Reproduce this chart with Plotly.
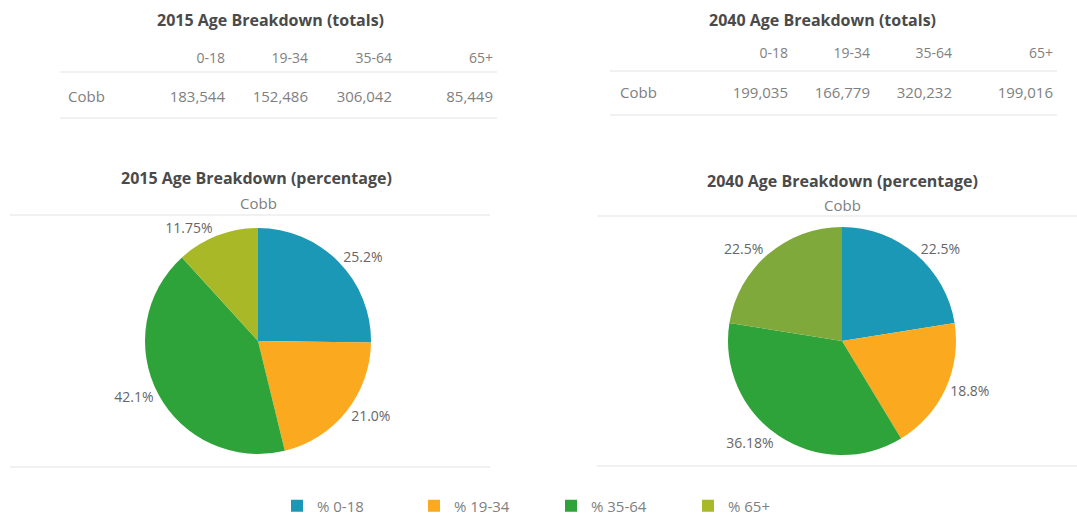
import plotly.graph_objects as go

W, H = 1077, 516

# ---- data ----
age_groups = ["0-18", "19-34", "35-64", "65+"]
legend_labels = ["% 0-18", "% 19-34", "% 35-64", "% 65+"]
region = "Cobb"
totals_2015 = [183544, 152486, 306042, 85449]
totals_2040 = [199035, 166779, 320232, 199016]
pct_labels_2015 = ["25.2%", "21.0%", "42.1%", "11.75%"]
pct_labels_2040 = ["22.5%", "18.8%", "36.18%", "22.5%"]
colors_2015 = ["#1b98b5", "#fbaa1f", "#2ea33a", "#a8b827"]
colors_2040 = ["#1b98b5", "#fbaa1f", "#2ea33a", "#7fa93a"]

FONT = "Open Sans"
GRAY = "#808080"
DARK = "#4a4a4a"
LINE = "#e3e3e3"


def px(x):
    return x / W


def py(y):
    return 1 - y / H


fig = go.Figure()


def add_table(year_totals, x0, x1, y_top, h_head, h_cell, widths):
    fig.add_trace(go.Table(
        domain=dict(x=[px(x0), px(x1)], y=[py(y_top + h_head + h_cell + 5), py(y_top)]),
        columnwidth=widths,
        header=dict(
            values=[""] + age_groups,
            align=["left", "right", "right", "right", "right"],
            font=dict(family=FONT, size=14, color=GRAY),
            fill_color="white",
            line_color="white",
            height=h_head,
        ),
        cells=dict(
            values=[[region]] + [[f"{v:,}"] for v in year_totals],
            align=["left", "right", "right", "right", "right"],
            font=dict(family=FONT, size=15, color=GRAY),
            fill_color="white",
            line_color="white",
            height=h_cell,
        ),
    ))


add_table(totals_2015, 60, 501, 44, 39, 35, [90, 83, 83, 84, 101])
add_table(totals_2040, 612, 1061, 39, 40, 35, [98, 86, 82, 82, 101])


def add_pie(vals, texts, colors, cx, cy, r, show_legend):
    fig.add_trace(go.Pie(
        labels=legend_labels,
        values=vals,
        text=texts,
        texttemplate="%{text}",
        textposition="outside",
        textfont=dict(family=FONT, size=14, color="#666666"),
        marker=dict(colors=colors, line=dict(width=0)),
        sort=False,
        direction="clockwise",
        rotation=0,
        hole=0,
        showlegend=show_legend,
        domain=dict(x=[px(cx - r), px(cx + r)], y=[py(cy + r), py(cy - r)]),
    ))


add_pie(totals_2015, pct_labels_2015, colors_2015, 258, 341, 113, True)
add_pie(totals_2040, pct_labels_2040, colors_2040, 842, 341, 114, False)

annotations = [
    dict(text="<b>2015 Age Breakdown (totals)</b>", x=px(270), y=py(20)),
    dict(text="<b>2040 Age Breakdown (totals)</b>", x=px(822), y=py(20)),
    dict(text="<b>2015 Age Breakdown (percentage)</b>", x=px(256), y=py(178)),
    dict(text="<b>2040 Age Breakdown (percentage)</b>", x=px(842), y=py(181)),
]
for a in annotations:
    a.update(xref="paper", yref="paper", showarrow=False,
             xanchor="center", yanchor="middle",
             font=dict(family=FONT, size=16, color=DARK))
for cx, cy in [(258, 203), (842, 205)]:
    annotations.append(dict(text=region, x=px(cx), y=py(cy), xref="paper", yref="paper",
                            showarrow=False, xanchor="center", yanchor="middle",
                            font=dict(family=FONT, size=15, color=GRAY)))

shapes = []
for (x0, x1, y) in [(60, 497, 72), (60, 497, 118), (610, 1057, 71), (610, 1057, 115),
                    (10, 490, 215), (10, 490, 467), (597, 1077, 216), (597, 1077, 466)]:
    shapes.append(dict(type="line", xref="paper", yref="paper",
                       x0=px(x0), x1=px(x1), y0=py(y), y1=py(y),
                       line=dict(color=LINE, width=1.2)))

fig.update_layout(
    width=W, height=H,
    margin=dict(l=0, r=0, t=0, b=0, autoexpand=False),
    paper_bgcolor="white",
    plot_bgcolor="white",
    font=dict(family=FONT, color=GRAY),
    annotations=annotations,
    shapes=shapes,
    legend=dict(
        orientation="h",
        x=px(277), xanchor="left",
        y=py(506), yanchor="middle",
        entrywidth=92, entrywidthmode="pixels",
        font=dict(family=FONT, size=15, color=GRAY),
        bgcolor="rgba(0,0,0,0)",
    ),
)

fig.write_html("out.html",
               config={"displayModeBar": False},
               post_script="document.body.style.margin='0';document.body.style.padding='0';")
